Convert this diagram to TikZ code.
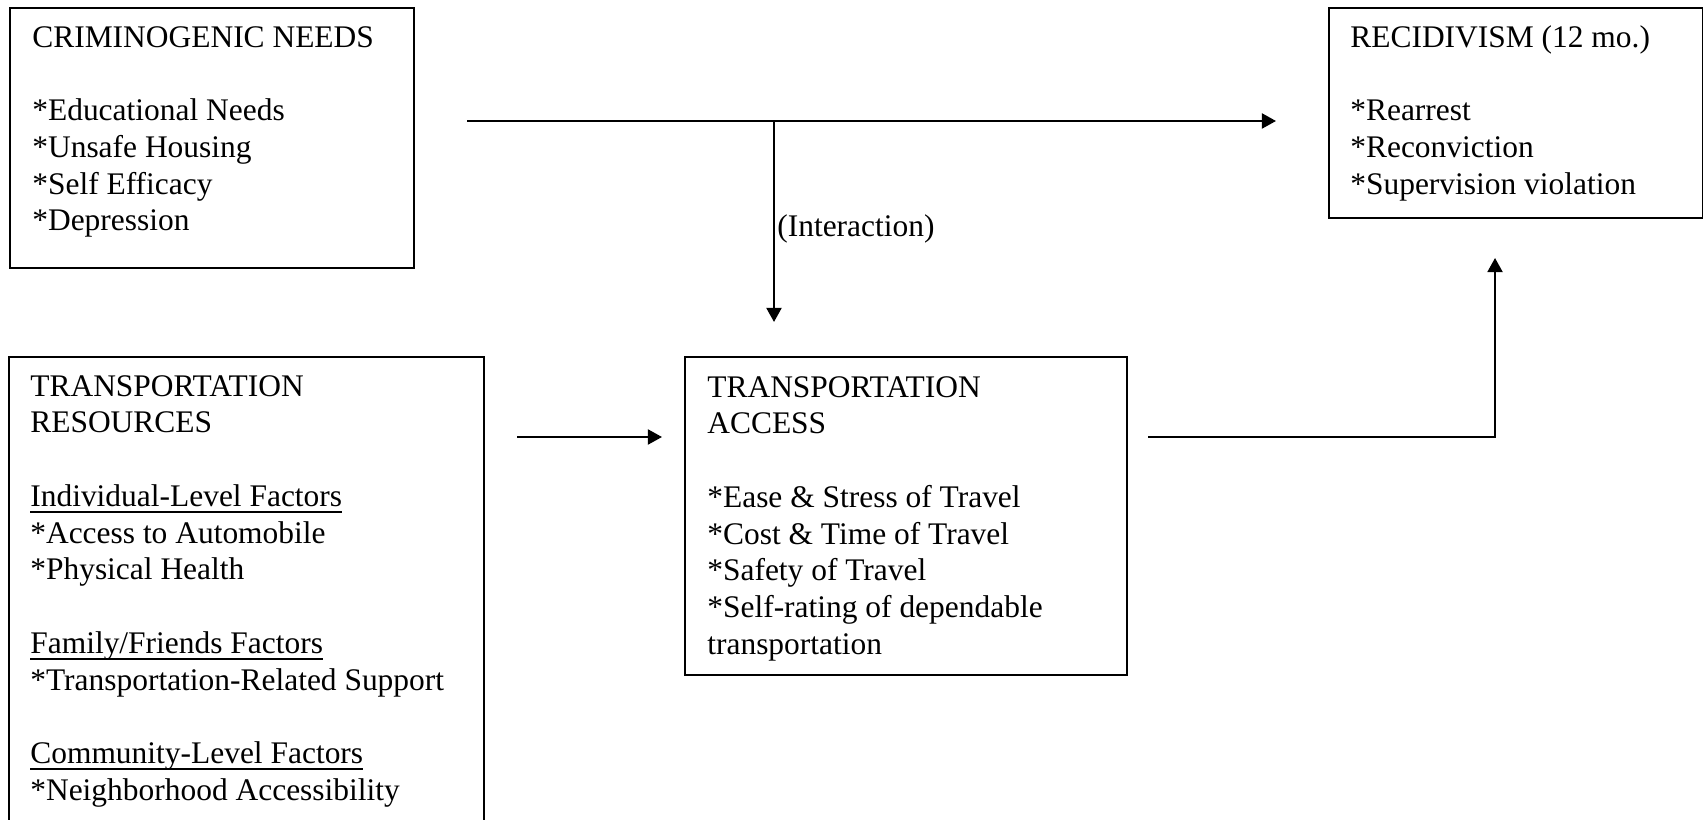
\documentclass[tikz,border=0pt]{standalone}
\usepackage{fontspec}
\setmainfont{Liberation Serif}
\usetikzlibrary{arrows.meta}
\newcommand{\px}{0.02cm}
\newsavebox{\factorbox}
\newcommand{\factorline}[1]{\sbox{\factorbox}{#1}\rlap{\rule[-3.7pt]{\wd\factorbox}{1.1pt}}\usebox{\factorbox}}
\begin{document}
\begin{tikzpicture}[x=0.02cm,y=-0.02cm]
\tikzstyle{every node}+=[inner sep=0pt]
\tikzstyle{box}=[draw=black, line width=0.9pt, anchor=north west]
\tikzstyle{txt}=[anchor=north west, align=left, font=\fontsize{17.9}{20.9}\selectfont]
\tikzstyle{link}=[black, line width=1.25pt]
\tikzstyle{tip}=[-{Triangle[length=8pt,width=8.5pt]}]
\useasboundingbox (0,0) rectangle (1703,820);
\clip (0,0) rectangle (1703,820);
\fill [white] (0,0) rectangle (1703,820);
% boxes
\node [box, minimum width=404*\px, minimum height=260*\px] (needs) at (9,7) {};
\node [box, minimum width=475*\px, minimum height=484*\px] (resources) at (8,356) {};
\node [box, minimum width=442*\px, minimum height=318*\px] (access) at (684,356) {};
\node [box, minimum width=374*\px, minimum height=210*\px] (recid) at (1328,7) {};
% box texts
\node [txt] (needstxt) at (32,21.2) {\strut CRIMINOGENIC NEEDS\\[\baselineskip]
*Educational Needs\\ *Unsafe Housing\\ *Self Efficacy\\ *Depression};
\node [txt] (resourcestxt) at (30,370.2) {\strut TRANSPORTATION\\ RESOURCES\\[\baselineskip]
\factorline{Individual-Level Factors}\\ *Access to Automobile\\ *Physical Health\\[\baselineskip]
\factorline{Family/Friends Factors}\\ *Transportation-Related Support\\[\baselineskip]
\factorline{Community-Level Factors}\\ *Neighborhood Accessibility};
\node [txt] (accesstxt) at (707,371.2) {\strut TRANSPORTATION\\ ACCESS\\[\baselineskip]
*Ease \& Stress of Travel\\ *Cost \& Time of Travel\\ *Safety of Travel\\
*Self-rating of dependable\\ transportation};
\node [txt] (recidtxt) at (1350,21.2) {\strut RECIDIVISM (12 mo.)\\[\baselineskip]
*Rearrest\\ *Reconviction\\ *Supervision violation};
% connector ends
\coordinate (main0) at (467,121);
\coordinate (main1) at (1276,121);
\coordinate (inter0) at (774,121);
\coordinate (inter1) at (774,322);
\coordinate (res0) at (517,437);
\coordinate (res1) at (662,437);
\coordinate (acc0) at (1148,437);
\coordinate (acc1) at (1495,258);
% connectors
\draw [link, tip] (main0) -- (main1);
\draw [link, tip] (inter0) -- (inter1);
\node [anchor=base west, font=\fontsize{17.9}{20.9}\selectfont] (inter) at (777,237) {(Interaction)};
\draw [link, tip] (res0) -- (res1);
\draw [link, tip] (acc0) -| (acc1);
\end{tikzpicture}
\end{document}
